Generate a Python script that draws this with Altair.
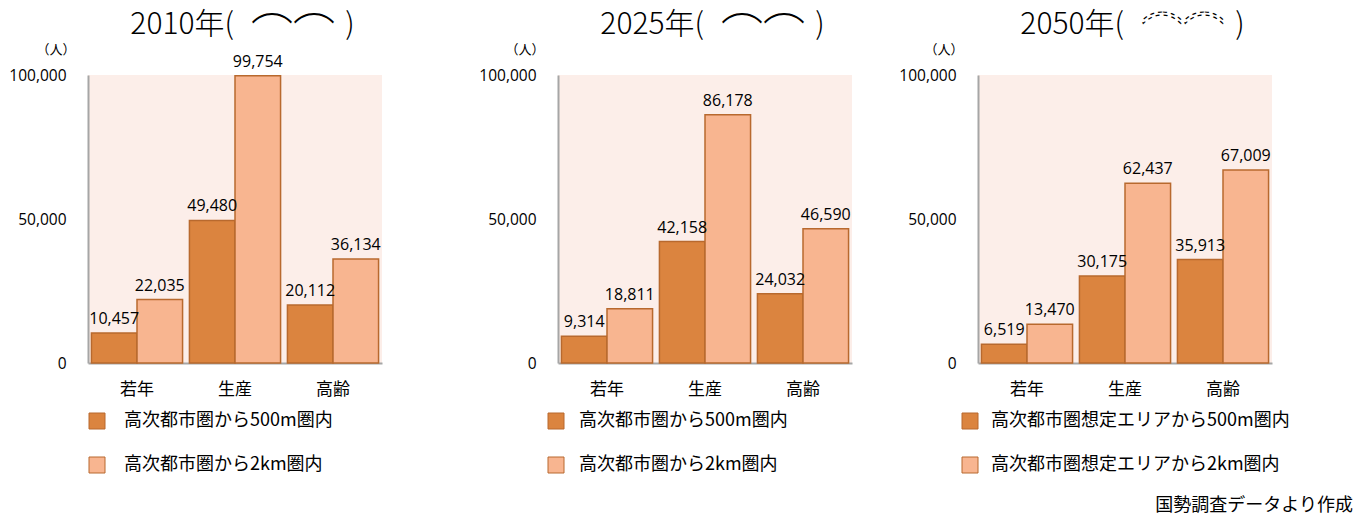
import altair as alt
import pandas as pd

ages = ["若年", "生産", "高齢"]
series = ["500m", "2km"]

near_2010 = [10457, 49480, 20112]
far_2010 = [22035, 99754, 36134]
near_2025 = [9314, 42158, 24032]
far_2025 = [18811, 86178, 46590]
near_2050 = [6519, 30175, 35913]
far_2050 = [13470, 62437, 67009]

years = ["2010年(", "2025年(", "2050年("]
cloud = "︵︵"
close_paren = ")"
legend_near = ["高次都市圏から500m圏内", "高次都市圏から500m圏内", "高次都市圏想定エリアから500m圏内"]
legend_far = ["高次都市圏から2km圏内", "高次都市圏から2km圏内", "高次都市圏想定エリアから2km圏内"]
unit_label = "（人）"
source_note = "国勢調査データより作成"

JP = "Noto Sans CJK JP"
NUM = "Open Sans"
DARK = "#DB843F"
LIGHT = "#F8B590"
EDGE = "#B8692E"
W, H = 294, 288

legend_pos = [(9, 36), (-2, 21), (-8, 13)]  # square centre x, text x (relative)
unit_x = [-32, -33, -34]


def one(text):
    return pd.DataFrame({"t": [text]})


def panel(i, near, far):
    df = pd.DataFrame({
        "age": ages * 2,
        "series": [series[0]] * 3 + [series[1]] * 3,
        "value": near + far,
    })
    base = alt.Chart(df)
    x = alt.X("age:N", sort=ages,
              scale=alt.Scale(paddingInner=0.07, paddingOuter=0.035),
              axis=alt.Axis(title=None, labelAngle=0, ticks=False,
                            domainColor="#A6A6A6", domainWidth=2,
                            labelFont=JP, labelFontSize=17, labelColor="#000",
                            labelPadding=18))
    xo = alt.XOffset("series:N", sort=series, scale=alt.Scale(paddingInner=0))
    y = alt.Y("value:Q", scale=alt.Scale(domain=[0, 100000]),
              axis=alt.Axis(title=None, values=[0, 50000, 100000], format=",d",
                            grid=False, ticks=False, domainColor="#A6A6A6",
                            domainWidth=2, labelFont=NUM, labelFontSize=15.5,
                            labelPadding=22, labelColor="#000"))
    bars = base.mark_bar(stroke=EDGE, strokeWidth=1.5).encode(
        x=x, xOffset=xo, y=y,
        color=alt.Color("series:N", sort=series,
                        scale=alt.Scale(domain=series, range=[DARK, LIGHT]),
                        legend=None))
    vals = base.mark_text(dy=-6, baseline="bottom", font=NUM, fontSize=16,
                          color="#000").encode(
        x=x, xOffset=xo, y=y, text=alt.Text("value:Q", format=",d"))

    t_year = alt.Chart(one(years[i])).mark_text(
        font=JP, fontSize=30, baseline="middle", align="right", color="#000",
        fontWeight=300
    ).encode(x=alt.value(146), y=alt.value(-50), text="t:N")
    t_close = alt.Chart(one(close_paren)).mark_text(
        font=JP, fontSize=30, baseline="middle", align="center", color="#000",
        fontWeight=300
    ).encode(x=alt.value(262), y=alt.value(-50), text="t:N")
    if i < 2:
        t_cloud = alt.Chart(one(cloud)).mark_text(
            font=JP, fontSize=42, baseline="middle", align="center",
            color="#000", fontWeight=200
        ).encode(x=alt.value(205), y=alt.value(-68), text="t:N")
    else:
        t_cloud = alt.Chart(one(cloud)).mark_text(
            font=JP, fontSize=42, baseline="middle", align="center",
            fill="#000", fillOpacity=0, stroke="#000", strokeWidth=1.2,
            strokeDash=[4, 4]
        ).encode(x=alt.value(205), y=alt.value(-68), text="t:N")
    unit = alt.Chart(one(unit_label)).mark_text(
        font=JP, fontSize=13, baseline="middle", align="center", color="#000"
    ).encode(x=alt.value(unit_x[i]), y=alt.value(-25), text="t:N")

    sx, tx = legend_pos[i]
    sq1 = alt.Chart(one("a")).mark_square(size=256, fill=DARK, stroke=EDGE,
                                          strokeWidth=1, opacity=1).encode(
        x=alt.value(sx), y=alt.value(346))
    sq2 = alt.Chart(one("b")).mark_square(size=256, fill=LIGHT, stroke=EDGE,
                                          strokeWidth=1, opacity=1).encode(
        x=alt.value(sx), y=alt.value(390))
    t1 = alt.Chart(one(legend_near[i])).mark_text(
        font=JP, fontSize=18, align="left", baseline="middle", color="#000"
    ).encode(x=alt.value(tx), y=alt.value(346), text="t:N")
    t2 = alt.Chart(one(legend_far[i])).mark_text(
        font=JP, fontSize=18, align="left", baseline="middle", color="#000"
    ).encode(x=alt.value(tx), y=alt.value(390), text="t:N")

    layers = [bars, vals, t_year, t_cloud, t_close, unit, sq1, sq2, t1, t2]
    if i == 1:
        spacer = alt.Chart(one(".")).mark_text(
            opacity=0, align="left", fontSize=10
        ).encode(x=alt.value(-130), y=alt.value(100), text="t:N")
        layers.append(spacer)
    if i == 2:
        src = alt.Chart(one(source_note)).mark_text(
            font=JP, fontSize=18, align="right", baseline="middle", color="#000"
        ).encode(x=alt.value(375), y=alt.value(431), text="t:N")
        layers.append(src)
    return alt.layer(*layers).properties(width=W, height=H)


chart = alt.hconcat(
    panel(0, near_2010, far_2010),
    panel(1, near_2025, far_2025),
    panel(2, near_2050, far_2050),
    spacing=46,
).properties(
    padding={"left": 0, "top": -22, "right": 5, "bottom": 0},
    background="white",
).configure_view(fill="#FCEEE9", stroke=None)

chart.save("out.html", embed_options={"renderer": "svg", "actions": False})
